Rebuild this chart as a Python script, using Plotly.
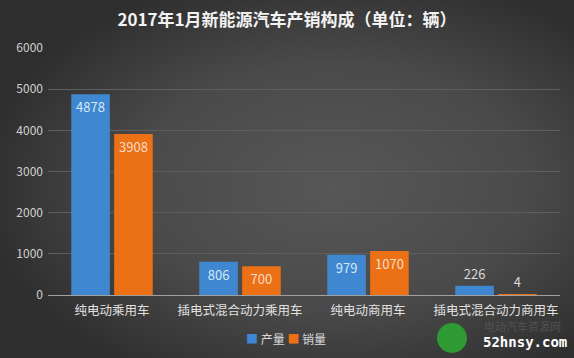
import base64
import plotly.graph_objects as go

categories = ["纯电动乘用车", "插电式混合动力乘用车", "纯电动商用车", "插电式混合动力商用车"]
production = [4878, 806, 979, 226]
sales = [3908, 700, 1070, 4]
series_names = ["产量", "销量"]
title_text = "2017年1月新能源汽车产销构成（单位：辆）"

FONT = "Noto Sans CJK SC"
BLUE = "#3f88d1"
ORANGE = "#ec7016"

def positions(vals):
    return ["inside" if v > 500 else "outside" for v in vals]

fig = go.Figure()
fig.add_trace(go.Bar(
    x=categories, y=production, name=series_names[0],
    marker=dict(color=BLUE, line=dict(width=0)),
    text=[str(v) for v in production], textposition=positions(production),
    insidetextanchor="end",
    insidetextfont=dict(color="#d6e6f6", size=13, family=FONT),
    outsidetextfont=dict(color="#d9d9d9", size=13, family=FONT),
    cliponaxis=False, showlegend=False,
))
fig.add_trace(go.Bar(
    x=categories, y=sales, name=series_names[1],
    marker=dict(color=ORANGE, line=dict(width=0)),
    text=[str(v) for v in sales], textposition=positions(sales),
    insidetextanchor="end",
    insidetextfont=dict(color="#f8dcc6", size=13, family=FONT),
    outsidetextfont=dict(color="#d9d9d9", size=13, family=FONT),
    cliponaxis=False, showlegend=False,
))

# background radial gradient (svg data uri)
svg = ('<svg xmlns="http://www.w3.org/2000/svg" width="574" height="358" viewBox="0 0 574 358">'
       '<defs><radialGradient id="g" cx="0.58" cy="0.52" r="0.62">'
       '<stop offset="0" stop-color="#575757"/><stop offset="0.55" stop-color="#4a4a4a"/>'
       '<stop offset="1" stop-color="#2e2e2e"/></radialGradient></defs>'
       '<rect width="574" height="358" fill="url(#g)"/></svg>')
src = "data:image/svg+xml;base64," + base64.b64encode(svg.encode()).decode()

L, R, T, B = 48, 14, 48, 63
PW, PH = 574 - L - R, 358 - T - B

def px(x):
    return (x - L) / PW

def py(y):
    return (358 - B - y) / PH

fig.add_layout_image(dict(source=src, xref="paper", yref="paper", x=px(0), y=py(0),
                          sizex=574 / PW, sizey=358 / PH, xanchor="left", yanchor="top",
                          sizing="stretch", layer="below"))

fig.update_layout(
    width=574, height=358,
    paper_bgcolor="#404040", plot_bgcolor="rgba(0,0,0,0)",
    margin=dict(l=L, r=R, t=T, b=B, autoexpand=False),
    title=dict(text="<b>" + title_text + "</b>", x=0.5, xanchor="center", y=1 - 20 / 358, yanchor="middle",
               font=dict(family=FONT, size=17, color="#f2f2f2")),
    barmode="group", bargap=0.33, bargroupgap=0.1,
    font=dict(family=FONT, color="#d9d9d9", size=12),
    showlegend=False,
)
fig.update_yaxes(range=[0, 6000], dtick=1000, showgrid=True, gridcolor="#5e5e5e", gridwidth=1,
                 zeroline=False, showline=False, ticks="", automargin=False,
                 tickfont=dict(size=12, color="#d0d0d0", family=FONT), ticklabelstandoff=4)
fig.update_xaxes(range=[-0.5, 3.5], showline=True, linecolor="#a0a0a0", linewidth=1, ticks="", automargin=False,
                 tickfont=dict(size=12.5, color="#e0e0e0", family=FONT), ticklabelstandoff=4)

# legend drawn as annotation
legend_html = (f"<span style='color:{BLUE}'>■</span> {series_names[0]} "
               f"<span style='color:{ORANGE}'>■</span> {series_names[1]}")
fig.add_annotation(text=legend_html, xref="paper", yref="paper", x=px(286), y=py(338),
                   xanchor="center", yanchor="middle", showarrow=False,
                   font=dict(size=12, color="#d9d9d9", family=FONT))

# watermark
fig.add_shape(type="circle", xref="paper", yref="paper", x0=px(437), x1=px(467), y0=py(353), y1=py(323),
              fillcolor="#2e9a34", line=dict(width=0), layer="above")
fig.add_annotation(text="电动汽车资源网", xref="paper", yref="paper", x=px(522), y=py(326),
                   xanchor="center", yanchor="middle", showarrow=False,
                   font=dict(size=11, color="#525252", family=FONT))
fig.add_annotation(text="<b>52hnsy.com</b>", xref="paper", yref="paper", x=px(525), y=py(342),
                   xanchor="center", yanchor="middle", showarrow=False,
                   font=dict(size=14, color="#ffffff", family="DejaVu Sans Mono"))

fig.write_html("out.html", config={"displayModeBar": False},
               post_script="document.body.style.margin='0';document.body.style.background='#404040';")
